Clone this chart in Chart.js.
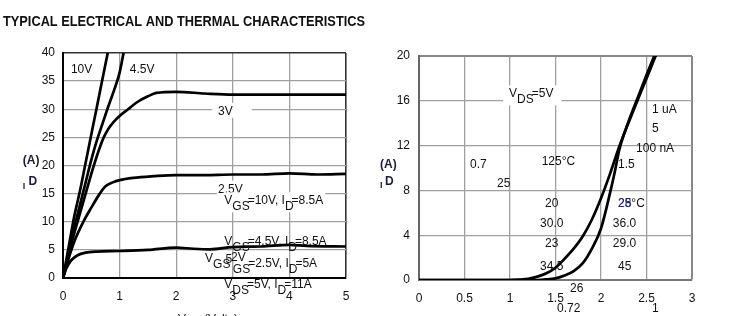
<!DOCTYPE html>
<html>
<head>
<meta charset="utf-8">
<script src="https://cdn.jsdelivr.net/npm/chart.js@4.4.1/dist/chart.umd.min.js"></script>
<style>
  html, body { margin: 0; padding: 0; background: #fff; }
  body { width: 756px; height: 316px; position: relative; overflow: hidden; }
  canvas { position: absolute; top: 0; }
  #left { left: 0; }
  #right { left: 378px; }
</style>
</head>
<body>
<canvas id="left" width="378" height="316"></canvas>
<canvas id="right" width="378" height="316"></canvas>
<script>
const FONT = '12px "Liberation Sans", Arial, sans-serif';
const BOLD = 'bold 12px "Liberation Sans", Arial, sans-serif';

// ---- left chart: output characteristics (ID vs VDS) ----
const leftXTicks = [0, 1, 2, 3, 4, 5];
const leftYTicks = [0, 5, 10, 15, 20, 25, 30, 35, 40];

const vds10 = [0, 0.1, 0.2, 0.3, 0.4, 0.5, 0.6, 0.7, 0.8];
const id10 = [0, 5.5, 11, 15.5, 20.5, 25.5, 30.5, 35.5, 40.5];

const vds45 = [0, 0.1, 0.2, 0.3, 0.4, 0.5, 0.6, 0.7, 0.8, 0.9, 1.0, 1.07];
const id45 = [0, 4.5, 9, 13, 17, 21, 24.5, 27.5, 30.5, 33.3, 36.5, 40];

const vds3 = [0, 0.1, 0.2, 0.3, 0.4, 0.5, 0.57, 0.65, 0.72, 0.8, 0.9, 1.0, 1.15, 1.3, 1.5, 1.65, 2.0, 2.5, 3, 4, 5];
const id3 = [0, 4, 8, 11.5, 15, 18.5, 20.8, 23.2, 25, 26.5, 27.8, 28.8, 30, 31.2, 32.3, 32.9, 33.1, 32.8, 32.6, 32.6, 32.6];

const vds25 = [0, 0.1, 0.2, 0.36, 0.5, 0.65, 0.75, 0.88, 1.0, 1.24, 1.6, 2, 2.5, 3, 3.5, 4, 4.5, 5];
const id25 = [0, 3.5, 6.5, 10, 12.5, 15, 16.3, 17, 17.4, 17.8, 18.1, 18.3, 18.3, 18.4, 18.4, 18.6, 18.4, 18.5];

const vds2 = [0, 0.05, 0.1, 0.15, 0.25, 0.4, 0.6, 1, 1.5, 2, 2.3, 2.6, 3, 3.5, 4, 4.3, 5];
const id2 = [0, 1.5, 2.5, 3.2, 4, 4.5, 4.7, 4.8, 5, 5.4, 5.2, 5.1, 5.5, 5.6, 5.9, 5.7, 5.6];

// ---- right chart: transfer characteristics (ID vs VGS) ----
const rightXTicks = [0, 0.5, 1, 1.5, 2, 2.5, 3];
const rightYTicks = [0, 4, 8, 12, 16, 20];

const vgsHot = [0, 1.0, 1.1, 1.2, 1.3, 1.4, 1.5, 1.6, 1.7, 1.8, 1.9, 2.0, 2.1, 2.2, 2.3, 2.4, 2.5, 2.6, 2.65];
const idHot = [0, 0, 0.03, 0.1, 0.3, 0.6, 1.1, 1.9, 2.8, 3.9, 5.4, 7.3, 9.5, 11.9, 14.0, 16.0, 18.0, 20.0, 21.0];

const vgsCold = [0, 1.3, 1.4, 1.5, 1.6, 1.7, 1.8, 1.9, 2.0, 2.1, 2.15, 2.2, 2.3, 2.4, 2.5, 2.6];
const idCold = [0, 0, 0.05, 0.15, 0.4, 0.8, 1.5, 2.8, 4.6, 7.8, 9.6, 11.6, 14.1, 16.2, 18.3, 20.3];

function pts(xs, ys) {
  return xs.map((x, i) => ({ x: x, y: ys[i] }));
}

function curve(xs, ys) {
  return {
    data: pts(xs, ys),
    showLine: true,
    borderColor: '#000',
    borderWidth: 2.7,
    pointRadius: 0,
    fill: false,
    cubicInterpolationMode: 'monotone'
  };
}

// rich text: parts are [text, isSubscript]
function drawRich(ctx, item, x, y) {
  ctx.font = item.font || FONT;
  const parts = item.parts;
  let w = 0, prevSub = false, hasSub = false;
  parts.forEach(([t, sub]) => {
    if (!sub && prevSub) w -= 2;
    w += ctx.measureText(t).width;
    prevSub = sub;
    if (sub) hasSub = true;
  });
  if (item.bg) {
    const pl = item.padL || 1, pr = item.padR || 2;
    ctx.fillStyle = '#fff';
    ctx.fillRect(x - pl, y - 12, w + pl + pr, hasSub ? 20 : 15);
  }
  ctx.fillStyle = item.color || '#111';
  let cx = x;
  prevSub = false;
  parts.forEach(([t, sub]) => {
    if (!sub && prevSub) cx -= 2;
    ctx.fillText(t, cx, y + (sub ? 6 : 0));
    cx += ctx.measureText(t).width;
    prevSub = sub;
  });
}

function notesPlugin(items, title) {
  return {
    id: 'notes',
    afterDatasetsDraw(chart) {
      const ctx = chart.ctx;
      const xs = chart.scales.x, ys = chart.scales.y;
      ctx.save();
      ctx.textBaseline = 'alphabetic';
      ctx.textAlign = 'left';
      items.forEach(it => {
        drawRich(ctx, it, xs.getPixelForValue(it.x), ys.getPixelForValue(it.y));
      });
      if (title) {
        ctx.font = 'bold 15px "Liberation Sans", Arial, sans-serif';
        ctx.fillStyle = '#111';
        const w = ctx.measureText(title).width;
        ctx.translate(3, 26);
        ctx.scale(362 / w, 1);
        ctx.fillText(title, 0, 0);
      }
      ctx.restore();
    }
  };
}

function txt(x, y, s, extra) {
  return Object.assign({ x: x, y: y, parts: [[s, false]] }, extra || {});
}

const leftNotes = [
  txt(0.14, 36.4, '10V'),
  txt(1.18, 36.4, '4.5V'),
  txt(2.74, 29.0, '3V', { bg: true, padL: 6, padR: 19 }),
  txt(2.74, 15.2, '2.5V', { bg: true }),
  { x: 2.85, y: 13.1, bg: true, parts: [['V', false], ['GS', true], ['=10V, I', false], ['D', true], ['=8.5A', false]] },
  { x: 2.85, y: 5.9, parts: [['V', false], ['GS', true], ['=4.5V, I', false], ['D', true], ['=8.5A', false]] },
  { x: 2.51, y: 2.8, parts: [['V', false], ['GS', true]] },
  txt(2.87, 2.7, '5'),
  txt(2.97, 3.0, '2V'),
  { x: 3.0, y: 2.0, parts: [['', false], ['GS', true], ['=2.5V, I', false], ['D', true], ['=5A', false]] },
  { x: 2.85, y: -1.8, parts: [['V', false], ['DS', true], ['=5V, I', false], ['D', true], ['=11A', false]] },
  { x: 2.03, y: -8.0, parts: [['V', false], ['DS', true], [' (Volts)', false]] },
  txt(-0.71, 20.3, '(A)', { font: BOLD, color: '#1c1c3c' }),
  txt(-0.71, 15.8, 'I', { font: 'bold 9px "Liberation Sans", Arial, sans-serif', color: '#1c1c3c' }),
  txt(-0.61, 16.5, 'D', { font: BOLD, color: '#1c1c3c' })
];

const rightNotes = [
  { x: 0.99, y: 16.3, bg: true, padL: 6, padR: 8, parts: [['V', false], ['DS', true], ['=5V', false]] },
  txt(0.56, 10.0, '0.7'),
  txt(1.348, 10.27, '125°C'),
  txt(0.857, 8.3, '25'),
  txt(2.56, 14.9, '1 uA'),
  txt(2.56, 13.2, '5'),
  txt(2.385, 11.43, '100 nA'),
  txt(2.187, 10.0, '1.5'),
  txt(1.385, 6.52, '20'),
  txt(2.187, 6.52, '25°C'),
  txt(2.187, 6.52, '28', { color: '#2a2a8c' }),
  txt(1.33, 4.73, '30.0'),
  txt(2.13, 4.73, '36.0'),
  txt(1.385, 2.95, '23'),
  txt(2.13, 2.95, '29.0'),
  txt(1.33, 0.89, '34.5'),
  txt(2.187, 0.89, '45'),
  txt(1.659, -1.07, '26'),
  txt(1.516, -2.86, '0.72'),
  txt(2.56, -2.86, '1'),
  txt(-0.4286, 10.0, '(A)', { font: BOLD, color: '#1c1c3c' }),
  txt(-0.4286, 8.2, 'I', { font: 'bold 9px "Liberation Sans", Arial, sans-serif', color: '#1c1c3c' }),
  txt(-0.3736, 8.48, 'D', { font: BOLD, color: '#1c1c3c' })
];

function axes(xTicks, yTicks, o) {
  const tickFont = { family: '"Liberation Sans", Arial, sans-serif', size: 12 };
  const xMax = xTicks[xTicks.length - 1], yMax = yTicks[yTicks.length - 1];
  return {
    x: {
      type: 'linear', min: xTicks[0], max: xMax,
      afterBuildTicks: s => { s.ticks = xTicks.map(v => ({ value: v })); },
      afterFit: s => { s.height = 30; },
      grid: {
        drawTicks: false,
        color: c => c.tick.value === 0 ? 'rgba(0,0,0,0)' : (c.tick.value === xMax ? o.frame : o.grid),
        lineWidth: c => c.tick.value === xMax ? o.frameW : 1.3
      },
      border: { color: o.axisX, width: 2 },
      ticks: { font: tickFont, color: '#111', padding: o.xPad, maxRotation: 0, callback: v => String(v) }
    },
    y: {
      type: 'linear', min: yTicks[0], max: yMax,
      afterBuildTicks: s => { s.ticks = yTicks.map(v => ({ value: v })); },
      afterFit: s => { s.width = o.yW; },
      grid: {
        drawTicks: false,
        color: c => c.tick.value === 0 ? 'rgba(0,0,0,0)' : (c.tick.value === yMax ? o.frame : o.grid),
        lineWidth: c => c.tick.value === yMax ? o.frameW : 1.3
      },
      border: { color: o.axisY, width: 2 },
      ticks: { font: tickFont, color: '#111', padding: o.yPad, callback: v => String(v) }
    }
  };
}

function baseOptions(padding, scales) {
  return {
    responsive: false,
    animation: false,
    devicePixelRatio: 1,
    layout: { padding: padding },
    plugins: { legend: { display: false }, tooltip: { enabled: false } },
    scales: scales
  };
}

new Chart(document.getElementById('left'), {
  type: 'scatter',
  data: {
    datasets: [
      curve(vds10, id10),
      curve(vds45, id45),
      curve(vds3, id3),
      curve(vds25, id25),
      curve(vds2, id2)
    ]
  },
  options: baseOptions(
    { left: 23, right: 32, top: 53, bottom: 8 },
    axes(leftXTicks, leftYTicks, { grid: '#a0a0a0', frame: '#333', frameW: 1.6, axisX: '#000', axisY: '#000', xPad: 11, yPad: 8, yW: 40 })
  ),
  plugins: [notesPlugin(leftNotes, 'TYPICAL ELECTRICAL AND THERMAL CHARACTERISTICS')]
});

new Chart(document.getElementById('right'), {
  type: 'scatter',
  data: {
    datasets: [
      curve(vgsHot, idHot),
      curve(vgsCold, idCold)
    ]
  },
  options: baseOptions(
    { left: 11, right: 64, top: 56, bottom: 6 },
    axes(rightXTicks, rightYTicks, { grid: '#a0a0a0', frame: '#888', frameW: 2, axisX: '#777', axisY: '#666', xPad: 11, yPad: 9, yW: 30 })
  ),
  plugins: [notesPlugin(rightNotes, null)]
});
</script>
</body>
</html>
